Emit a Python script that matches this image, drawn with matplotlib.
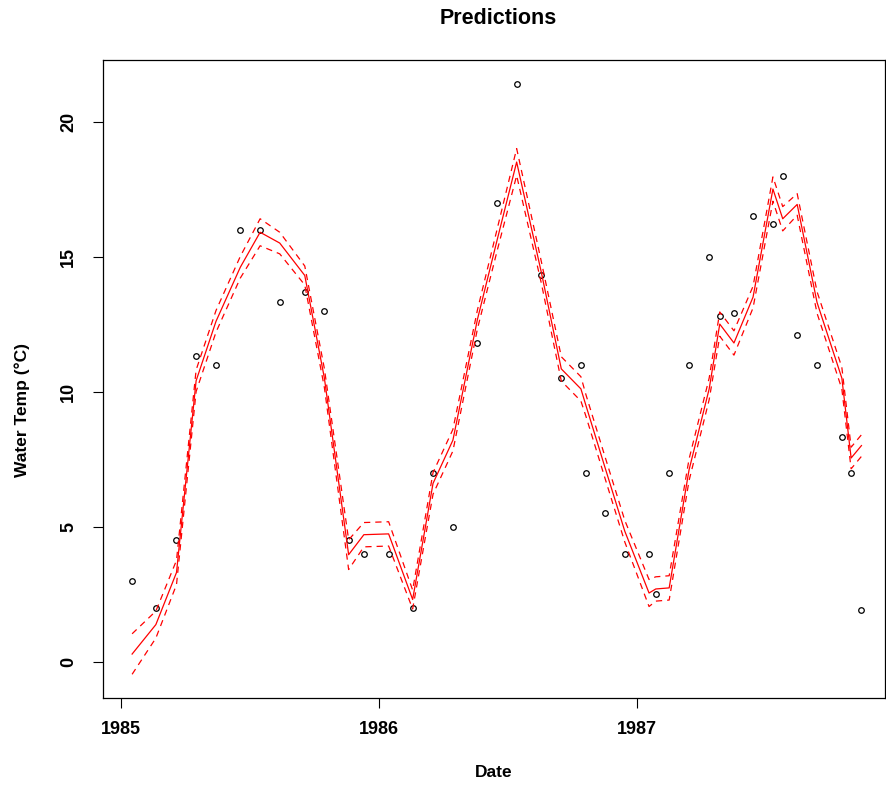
import matplotlib
matplotlib.use("Agg")
import matplotlib.pyplot as plt

# observation dates (decimal years) and measured water temperature
dates = [1985.043, 1985.135, 1985.215, 1985.291, 1985.368, 1985.462, 1985.539,
         1985.615, 1985.712, 1985.788, 1985.882, 1985.941, 1986.037, 1986.130,
         1986.209, 1986.286, 1986.381, 1986.457, 1986.533, 1986.629, 1986.706,
         1986.782, 1986.801, 1986.875, 1986.952, 1987.046, 1987.072, 1987.124,
         1987.201, 1987.279, 1987.320, 1987.375, 1987.449, 1987.526, 1987.564,
         1987.620, 1987.697, 1987.793, 1987.829, 1987.869]
observed = [3.0, 2.0, 4.5, 11.3, 11.0, 16.0, 16.0, 13.3, 13.7, 13.0,
            4.5, 4.0, 4.0, 2.0, 7.0, 5.0, 11.8, 17.0, 21.4, 14.3,
            10.5, 11.0, 7.0, 5.5, 4.0, 4.0, 2.5, 7.0, 11.0, 15.0,
            12.8, 12.9, 16.5, 16.2, 18.0, 12.1, 11.0, 8.3, 7.0, 1.9]

# model fit and confidence band
predicted = [0.28, 1.37, 3.3, 10.4, 12.6, 14.6, 15.9, 15.5, 14.3, 10.5,
             3.96, 4.7, 4.73, 2.3, 6.6, 8.2, 12.67, 15.6, 18.5, 14.4,
             10.84, 10.1, 9.5, 7.2, 4.83, 2.54, 2.69, 2.73, 7.1, 10.1,
             12.5, 11.8, 13.5, 17.5, 16.4, 16.93, 13.3, 10.5, 7.54, 8.0]
lower = [-0.47, 0.87, 2.85, 10.0, 12.2, 14.2, 15.4, 15.1, 13.95, 10.15,
         3.41, 4.25, 4.28, 1.95, 6.2, 7.8, 12.32, 15.2, 18.0, 14.0,
         10.39, 9.65, 9.1, 6.8, 4.43, 2.04, 2.24, 2.28, 6.7, 9.7,
         12.05, 11.35, 13.1, 17.05, 15.95, 16.53, 12.9, 10.1, 7.14, 7.6]
upper = [1.03, 1.87, 3.75, 10.8, 13.0, 15.0, 16.4, 15.9, 14.65, 10.85,
         4.51, 5.15, 5.18, 2.65, 7.0, 8.6, 13.02, 16.0, 19.0, 14.8,
         11.29, 10.55, 9.9, 7.6, 5.23, 3.04, 3.14, 3.18, 7.5, 10.5,
         12.95, 12.25, 13.9, 17.95, 16.85, 17.33, 13.7, 10.9, 7.94, 8.4]

year_ticks = [1985, 1986, 1987]
temp_ticks = [0, 5, 10, 15, 20]

plt.rcParams["font.family"] = ["Liberation Sans", "DejaVu Sans"]
plt.rcParams["font.weight"] = "bold"

fig = plt.figure(figsize=(8.86, 7.85), dpi=100)
ax = fig.add_axes([0.1159, 0.1104, 0.8826, 0.8132])

ax.plot(dates, observed, "o", mfc="none", mec="black", ms=4, mew=0.9)
ax.plot(dates, predicted, color="red", lw=0.9)
ax.plot(dates, lower, color="red", lw=0.9, dashes=(5, 4))
ax.plot(dates, upper, color="red", lw=0.9, dashes=(5, 4))

ax.set_xlim(1984.929, 1987.959)
ax.set_ylim(-1.36, 22.28)

ax.set_xticks(year_ticks)
ax.set_xticklabels([str(y) for y in year_ticks])
ax.set_yticks(temp_ticks)
ax.set_yticklabels([str(t) for t in temp_ticks], rotation=90, va="center")
ax.tick_params(direction="out", length=7.5, width=0.8, labelsize=13, pad=9)
ax.tick_params(axis="y", pad=11)

for s in ax.spines.values():
    s.set_linewidth(0.9)

fig.text(498 / 886, 1 - 19 / 785, "Predictions", fontsize=15.5,
         fontweight="bold", ha="center", va="center")
ax.set_xlabel("Date", fontsize=12.5, fontweight="bold")
ax.set_ylabel("Water Temp (\u00b0C)", fontsize=12.5, fontweight="bold")
ax.xaxis.set_label_coords(0.5, -0.1155)
ax.yaxis.set_label_coords(-0.103, 0.452)
ax.xaxis.label.set_va("center")
ax.yaxis.label.set_va("center")

fig.savefig("out.png", dpi=100)
